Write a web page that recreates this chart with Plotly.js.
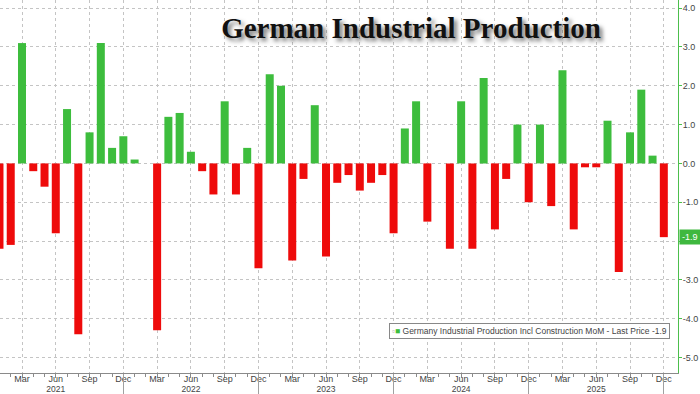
<!DOCTYPE html>
<html>
<head>
<meta charset="utf-8">
<script src="https://cdn.plot.ly/plotly-3.0.1.min.js"></script>
<style>
html,body{margin:0;padding:0;background:#fff;}
#chart{width:700px;height:394px;}
</style>
</head>
<body>
<div id="chart"></div>
<script>
var months = [
  "2021-01","2021-02","2021-03","2021-04","2021-05","2021-06","2021-07","2021-08","2021-09","2021-10","2021-11","2021-12",
  "2022-01","2022-02","2022-03","2022-04","2022-05","2022-06","2022-07","2022-08","2022-09","2022-10","2022-11","2022-12",
  "2023-01","2023-02","2023-03","2023-04","2023-05","2023-06","2023-07","2023-08","2023-09","2023-10","2023-11","2023-12",
  "2024-01","2024-02","2024-03","2024-04","2024-05","2024-06","2024-07","2024-08","2024-09","2024-10","2024-11","2024-12",
  "2025-01","2025-02","2025-03","2025-04","2025-05","2025-06","2025-07","2025-08","2025-09","2025-10","2025-11","2025-12"
];
var values = [
  -2.2,-2.1, 3.1,-0.2,-0.6,-1.8, 1.4,-4.4, 0.8, 3.1, 0.4, 0.7,
   0.1, 0.0,-4.3, 1.2, 1.3, 0.3,-0.2,-0.8, 1.6,-0.8, 0.4,-2.7,
   2.3, 2.0,-2.5,-0.4, 1.5,-2.4,-0.5,-0.3,-0.7,-0.5,-0.3,-1.8,
   0.9, 1.6,-1.5, 0.0,-2.2, 1.6,-2.2, 2.2,-1.7,-0.4, 1.0,-1.0,
   1.0,-1.1, 2.4,-1.7,-0.1,-0.1, 1.1,-2.8, 0.8, 1.9, 0.2,-1.9
];
var monthNames = ["Jan","Feb","Mar","Apr","May","Jun","Jul","Aug","Sep","Oct","Nov","Dec"];
var yTicks = [4,3,2,1,0,-1,-2,-3,-4,-5];
var seriesName = "Germany Industrial Production Incl Construction MoM - Last Price -1.9";
var lastValue = values[values.length-1];

var GREEN = "#3dbd3d", RED = "#ee0b0b";

var tickVals = [], tickText = [], allIdx = [], decIdx = [], yearIdx = [], yearText = [];
months.forEach(function(m, i){
  var yr = m.slice(0,4), mo = parseInt(m.slice(5,7),10);
  allIdx.push(i);
  if (mo % 3 === 0) {
    tickVals.push(m);
    tickText.push(monthNames[mo-1]);
  }
  if (mo === 6) { yearIdx.push(i); yearText.push(yr); }
  if (mo === 12) decIdx.push(i);
});
// the last-price flag covers the label nearest to it, as in the reference
var yText = yTicks.map(function(v){ return Math.abs(v - lastValue) < 0.5 ? "" : v.toFixed(1); });

var xr = [0.046, 60.26];

var trace = {
  type: "bar",
  x: months,
  y: values,
  marker: {color: values.map(function(v){ return v >= 0 ? GREEN : RED; })},
  hoverinfo: "x+y",
  showlegend: false
};
function helper(ax){
  return {type: "scatter", mode: "markers", x: allIdx, y: allIdx.map(function(){ return 0; }),
          xaxis: ax, yaxis: "y", marker: {size: 1, opacity: 0}, hoverinfo: "skip", showlegend: false};
}

var tickFont = {family: "Liberation Sans Narrow, Arial Narrow, Liberation Sans, sans-serif", size: 9, color: "#444"};
var yearFont = {family: "Liberation Sans Narrow, Arial Narrow, Liberation Sans, sans-serif", size: 8.5, color: "#444"};

var layout = {
  width: 700, height: 394,
  margin: {l: 0, r: 22, t: 0, b: 21},
  paper_bgcolor: "#fff", plot_bgcolor: "#fff",
  bargap: 0.29,
  title: {
    text: "<b>German Industrial Production</b>",
    x: 411/678, xanchor: "center", xref: "paper",
    y: 1 - 28/394, yanchor: "middle", yref: "container",
    font: {family: "Liberation Serif, Times New Roman, serif", size: 29, color: "#111",
           shadow: "3px 3px 4px rgba(0,0,0,0.55)"}
  },
  xaxis: {
    type: "category",
    range: xr,
    tickvals: tickVals, ticktext: tickText,
    showgrid: true, gridcolor: "#c4c4c4", griddash: "dot", gridwidth: 1,
    showline: true, linecolor: "#8a8a8a", linewidth: 1,
    ticks: "outside", ticklen: 4, tickcolor: "#8a8a8a",
    ticklabelstandoff: -7,
    tickfont: tickFont, automargin: false, zeroline: false,
    fixedrange: true
  },
  xaxis2: {
    overlaying: "x", anchor: "y", type: "linear", range: xr,
    tickvals: allIdx, showticklabels: false,
    ticks: "outside", ticklen: 3, tickcolor: "#8a8a8a",
    showgrid: false, zeroline: false, showline: false
  },
  xaxis3: {
    overlaying: "x", anchor: "y", type: "linear", range: xr,
    tickvals: decIdx, showticklabels: false,
    ticks: "outside", ticklen: 21, tickcolor: "#a0a0a0",
    showgrid: false, zeroline: false, showline: false
  },
  xaxis4: {
    overlaying: "x", anchor: "y", type: "linear", range: xr,
    tickvals: yearIdx, ticktext: yearText,
    ticks: "", ticklabelstandoff: 9,
    tickfont: yearFont, automargin: false,
    showgrid: false, zeroline: false, showline: false
  },
  yaxis: {
    side: "right",
    range: [-5.4, 4.21],
    tickvals: yTicks, ticktext: yText,
    showgrid: true, gridcolor: "#c4c4c4", griddash: "dot", gridwidth: 1,
    zeroline: false,
    showline: true, linecolor: "#4cbf4c", linewidth: 1,
    ticks: "outside", ticklen: 3, tickcolor: "#4cbf4c",
    ticklabelstandoff: -1,
    tickfont: tickFont, automargin: false,
    fixedrange: true
  },
  annotations: [
    {
      xref: "paper", yref: "paper",
      x: 389/678, y: (373-330.5)/373, xanchor: "left", yanchor: "middle",
      text: "<span style='color:#bbb'>▫</span><span style='color:" + GREEN + "'>■</span> " + seriesName,
      showarrow: false,
      font: {family: "Liberation Sans Narrow, Arial Narrow, Liberation Sans, sans-serif", size: 8.5, color: "#444"},
      bgcolor: "#fff", bordercolor: "#888", borderwidth: 1, borderpad: 2
    },
    {
      xref: "paper", yref: "y",
      x: 1, y: lastValue, xanchor: "left", yanchor: "middle", xshift: 1,
      text: lastValue.toFixed(1),
      showarrow: false,
      font: {family: "Liberation Sans Narrow, Arial Narrow, Liberation Sans, sans-serif", size: 9, color: "#fff"},
      bgcolor: "#3fb83f", borderpad: 2
    }
  ]
};

Plotly.newPlot("chart", [trace, helper("x2"), helper("x3"), helper("x4")], layout, {displayModeBar: false, staticPlot: true});
</script>
</body>
</html>
